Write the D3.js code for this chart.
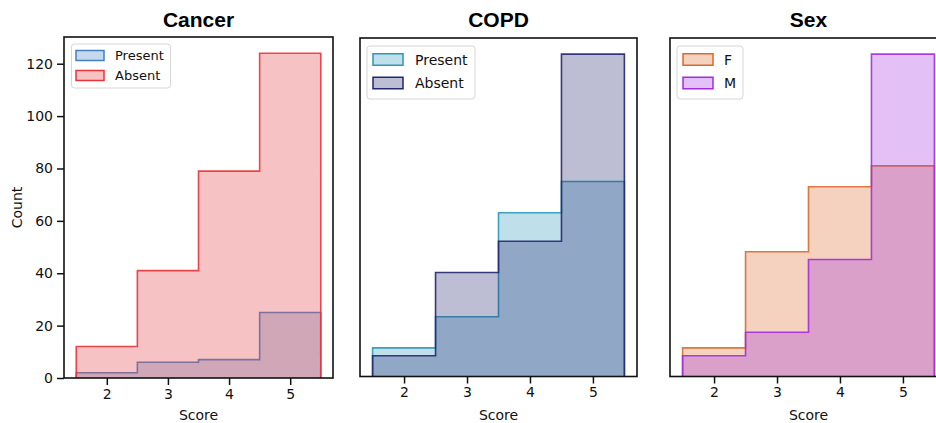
<!DOCTYPE html>
<html><head><meta charset="utf-8">
<script src="https://cdn.jsdelivr.net/npm/d3@7"></script>
<style>
html,body{margin:0;padding:0;background:#fff;}
svg{display:block;}
</style></head>
<body>
<svg id="chart" width="936" height="423"></svg>
<script>
// ---------- data ----------
const binCenters = [2, 3, 4, 5];
const binWidth = 1;
const xTicks = [2, 3, 4, 5];
const yTicks = [0, 20, 40, 60, 80, 100, 120];
const panelTitles = ["Cancer", "COPD", "Sex"];

const cancerLabels = ["Present", "Absent"];
const cancerPresent = [2, 6, 7, 25];
const cancerAbsent = [12, 41, 79, 124];

const copdLabels = ["Present", "Absent"];
const copdPresent = [11, 23, 63, 75];
const copdAbsent = [8, 40, 52, 124];

const sexLabels = ["F", "M"];
const sexF = [11, 48, 73, 81];
const sexM = [8, 17, 45, 124];

const cancerColors = ["#4181c0", "#e6353d"];
const copdColors = ["#2a98b8", "#232670"];
const sexColors = ["#da6a2c", "#a22de0"];

// ---------- layout ----------
const panels = [
  {title: panelTitles[0], series: [cancerPresent, cancerAbsent], labels: cancerLabels, colors: cancerColors,
   x0: 64, x1: 333, y0: 378, y1: 37, yAxis: true, legendFont: 13,
   legend: {x: 71.5, y: 44, w: 99, h: 44, patchX: 76, patchW: 28, patchH: 10, textX: 115, row0: 55.5, rowGap: 20}},
  {title: panelTitles[1], series: [copdPresent, copdAbsent], labels: copdLabels, colors: copdColors,
   x0: 360, x1: 637, y0: 376.5, y1: 38, yAxis: false, legendFont: 14,
   legend: {x: 367, y: 46, w: 108, h: 53, patchX: 373, patchW: 30, patchH: 11.5, textX: 415, row0: 59.5, rowGap: 23.5}},
  {title: panelTitles[2], series: [sexF, sexM], labels: sexLabels, colors: sexColors,
   x0: 670, x1: 947, y0: 376.5, y1: 38, yAxis: false, legendFont: 14,
   legend: {x: 677, y: 46, w: 66, h: 53, patchX: 683, patchW: 30, patchH: 11.5, textX: 724, row0: 59.5, rowGap: 23.5}}
];

const svg = d3.select("#chart");
const tickFont = "'DejaVu Sans', sans-serif";

panels.forEach((p, pi) => {
  const x = d3.scaleLinear().domain([1.3, 5.7]).range([p.x0, p.x1]);
  const y = d3.scaleLinear().domain([0, 130.2]).range([p.y0, p.y1]);
  const g = svg.append("g");

  // histograms (first series drawn first, second on top)
  p.series.forEach((vals, si) => {
    const pts = [];
    pts.push([binCenters[0] - binWidth / 2, 0]);
    vals.forEach((v, i) => {
      pts.push([binCenters[i] - binWidth / 2, v]);
      pts.push([binCenters[i] + binWidth / 2, v]);
    });
    pts.push([binCenters[binCenters.length - 1] + binWidth / 2, 0]);
    const line = d3.line().x(d => x(d[0])).y(d => y(d[1]));
    g.append("path").attr("d", line(pts) + "Z")
      .attr("fill", p.colors[si]).attr("fill-opacity", 0.3).attr("stroke", "none");
    g.append("path").attr("d", line(pts))
      .attr("fill", "none").attr("stroke", p.colors[si]).attr("stroke-width", 1.6)
      .attr("stroke-opacity", 0.9);
  });

  // frame
  g.append("rect").attr("x", p.x0).attr("y", p.y1)
    .attr("width", p.x1 - p.x0).attr("height", p.y0 - p.y1)
    .attr("fill", "none").attr("stroke", "#111").attr("stroke-width", 1.6);

  // x axis
  const xa = g.append("g").attr("transform", `translate(0,${p.y0})`)
    .call(d3.axisBottom(x).tickValues(xTicks).tickSize(7).tickPadding(4).tickFormat(d3.format("d")));
  xa.select(".domain").remove();
  xa.selectAll("line").attr("stroke", "#111").attr("stroke-width", 1.5);
  xa.selectAll("text").attr("font-family", tickFont).attr("font-size", 14).attr("fill", "#111");

  if (p.yAxis) {
    const ya = g.append("g").attr("transform", `translate(${p.x0},0)`)
      .call(d3.axisLeft(y).tickValues(yTicks).tickSize(7).tickPadding(4).tickFormat(d3.format("d")));
    ya.select(".domain").remove();
    ya.selectAll("line").attr("stroke", "#111").attr("stroke-width", 1.5);
    ya.selectAll("text").attr("font-family", tickFont).attr("font-size", 14).attr("fill", "#111");
    g.append("text").attr("transform", `translate(22,${(p.y0 + p.y1) / 2}) rotate(-90)`)
      .attr("text-anchor", "middle").attr("font-family", tickFont).attr("font-size", 14)
      .attr("fill", "#111").text("Count");
  }

  // x label
  g.append("text").attr("x", (p.x0 + Math.min(p.x1, 947)) / 2).attr("y", 420)
    .attr("text-anchor", "middle").attr("font-family", tickFont).attr("font-size", 14)
    .attr("fill", "#111").text("Score");

  // title
  g.append("text").attr("x", (p.x0 + p.x1) / 2).attr("y", 27)
    .attr("text-anchor", "middle").attr("font-family", "'Liberation Sans', Arial, sans-serif")
    .attr("font-weight", "bold").attr("font-size", 21).attr("fill", "#000").text(p.title);

  // legend
  const L = p.legend;
  g.append("rect").attr("x", L.x).attr("y", L.y).attr("width", L.w).attr("height", L.h)
    .attr("rx", 3).attr("fill", "#fff").attr("fill-opacity", 0.8)
    .attr("stroke", "#d6d6d6").attr("stroke-width", 1);
  p.labels.forEach((lab, si) => {
    const cy = L.row0 + si * L.rowGap;
    g.append("rect").attr("x", L.patchX).attr("y", cy - L.patchH / 2)
      .attr("width", L.patchW).attr("height", L.patchH)
      .attr("fill", p.colors[si]).attr("fill-opacity", 0.3)
      .attr("stroke", p.colors[si]).attr("stroke-width", 1.5);
    g.append("text").attr("x", L.textX).attr("y", cy).attr("dy", "0.36em")
      .attr("font-family", tickFont).attr("font-size", p.legendFont).attr("fill", "#111").text(lab);
  });
});
</script>
</body></html>
